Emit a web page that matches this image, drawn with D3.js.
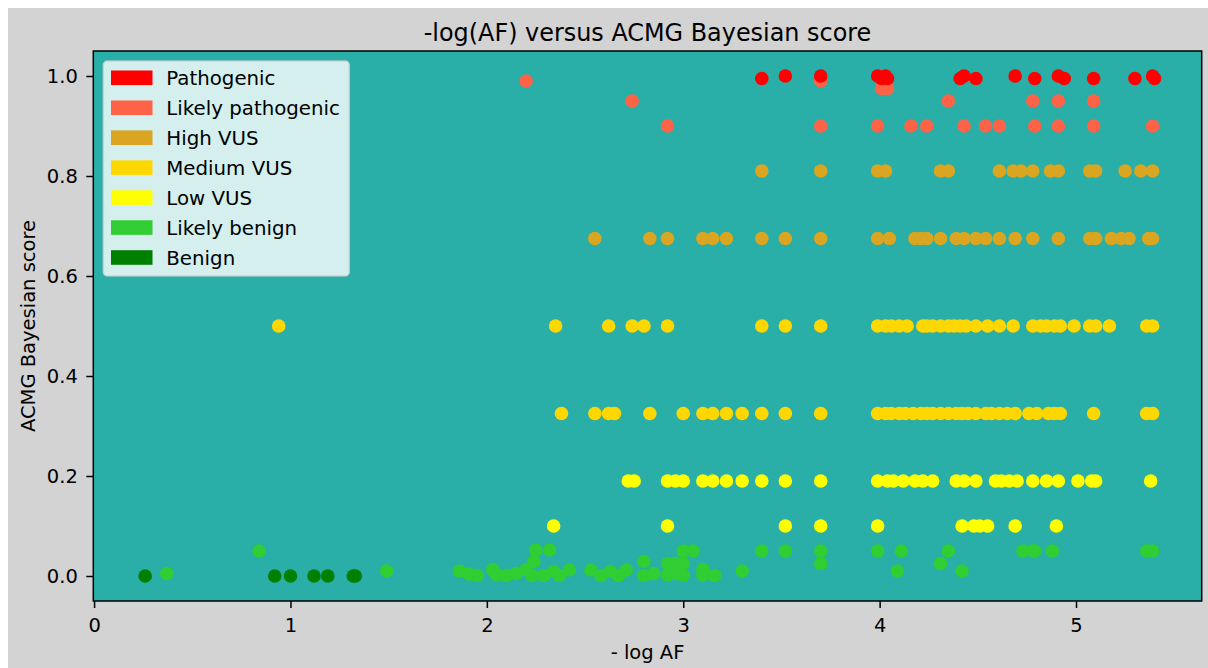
<!DOCTYPE html>
<html>
<head>
<meta charset="utf-8">
<script src="https://cdn.jsdelivr.net/npm/d3@7"></script>
<style>
  body { margin: 0; background: #ffffff; }
  svg { display: block; }
  text { font-family: "DejaVu Sans", sans-serif; fill: #000; }
</style>
</head>
<body>
<svg id="chart" width="1208" height="668"></svg>
<script>
// Classification categories, in legend order, with their colours
const categories = ["Pathogenic", "Likely pathogenic", "High VUS", "Medium VUS", "Low VUS", "Likely benign", "Benign"];
const categoryColors = ["red", "tomato", "goldenrod", "gold", "yellow", "limegreen", "green"];

// Tick values
const xTicks = [0, 1, 2, 3, 4, 5];
const yTicks = [0.0, 0.2, 0.4, 0.6, 0.8, 1.0];

// Variants per class: [-log AF, ACMG Bayesian score]
const pathogenic = [
  [3.40, 0.995], [3.52, 1.0], [3.70, 1.0], [3.99, 1.0], [4.01, 0.995], [4.03, 1.0], [4.04, 0.995],
  [4.41, 0.995], [4.43, 1.0], [4.49, 0.995], [4.69, 1.0], [4.79, 0.995], [4.91, 1.0], [4.94, 0.995],
  [5.09, 0.995], [5.30, 0.995], [5.39, 1.0], [5.40, 0.995]
];
const likelyPathogenic = [
  [2.20, 0.99], [3.70, 0.99], [4.01, 0.975], [4.04, 0.975],
  [2.74, 0.95], [4.35, 0.95], [4.78, 0.95], [4.91, 0.95], [5.09, 0.95],
  [2.92, 0.90], [3.70, 0.90], [3.99, 0.90], [4.16, 0.90], [4.24, 0.90], [4.43, 0.90], [4.54, 0.90],
  [4.61, 0.90], [4.79, 0.90], [4.91, 0.90], [5.09, 0.90], [5.39, 0.90]
];
const highVUS = [
  [3.40, 0.81], [3.70, 0.81], [3.99, 0.81], [4.03, 0.81], [4.31, 0.81], [4.35, 0.81], [4.61, 0.81],
  [4.68, 0.81], [4.72, 0.81], [4.78, 0.81], [4.87, 0.81], [4.91, 0.81], [5.07, 0.81], [5.10, 0.81],
  [5.25, 0.81], [5.33, 0.81], [5.39, 0.81],
  [2.55, 0.675], [2.83, 0.675], [2.92, 0.675], [3.10, 0.675], [3.15, 0.675], [3.22, 0.675], [3.40, 0.675],
  [3.52, 0.675], [3.70, 0.675], [3.99, 0.675], [4.05, 0.675], [4.18, 0.675], [4.21, 0.675], [4.24, 0.675],
  [4.31, 0.675], [4.39, 0.675], [4.43, 0.675], [4.49, 0.675], [4.54, 0.675], [4.61, 0.675], [4.69, 0.675],
  [4.78, 0.675], [4.91, 0.675], [5.07, 0.675], [5.10, 0.675], [5.18, 0.675], [5.23, 0.675], [5.27, 0.675],
  [5.37, 0.675], [5.39, 0.675]
];
const mediumVUS = [
  [0.94, 0.5], [2.35, 0.5], [2.62, 0.5], [2.74, 0.5], [2.80, 0.5], [2.92, 0.5], [3.40, 0.5], [3.52, 0.5],
  [3.70, 0.5], [3.99, 0.5], [4.03, 0.5], [4.06, 0.5], [4.10, 0.5], [4.14, 0.5], [4.22, 0.5], [4.24, 0.5],
  [4.27, 0.5], [4.31, 0.5], [4.35, 0.5], [4.38, 0.5], [4.41, 0.5], [4.44, 0.5], [4.49, 0.5], [4.55, 0.5],
  [4.61, 0.5], [4.68, 0.5], [4.78, 0.5], [4.82, 0.5], [4.85, 0.5], [4.89, 0.5], [4.92, 0.5], [4.99, 0.5],
  [5.07, 0.5], [5.10, 0.5], [5.17, 0.5], [5.36, 0.5], [5.39, 0.5],
  [2.38, 0.325], [2.55, 0.325], [2.62, 0.325], [2.65, 0.325], [2.83, 0.325], [3.00, 0.325], [3.10, 0.325],
  [3.15, 0.325], [3.22, 0.325], [3.30, 0.325], [3.40, 0.325], [3.52, 0.325], [3.70, 0.325], [3.99, 0.325],
  [4.03, 0.325], [4.06, 0.325], [4.10, 0.325], [4.13, 0.325], [4.17, 0.325], [4.21, 0.325], [4.24, 0.325],
  [4.27, 0.325], [4.31, 0.325], [4.35, 0.325], [4.39, 0.325], [4.42, 0.325], [4.45, 0.325], [4.49, 0.325],
  [4.54, 0.325], [4.57, 0.325], [4.61, 0.325], [4.65, 0.325], [4.69, 0.325], [4.76, 0.325], [4.80, 0.325],
  [4.86, 0.325], [4.89, 0.325], [4.92, 0.325], [5.09, 0.325], [5.36, 0.325], [5.39, 0.325]
];
const lowVUS = [
  [2.72, 0.19], [2.75, 0.19], [2.92, 0.19], [2.96, 0.19], [3.00, 0.19], [3.10, 0.19], [3.15, 0.19],
  [3.22, 0.19], [3.30, 0.19], [3.40, 0.19], [3.52, 0.19], [3.70, 0.19], [3.99, 0.19], [4.04, 0.19],
  [4.07, 0.19], [4.12, 0.19], [4.18, 0.19], [4.22, 0.19], [4.27, 0.19], [4.39, 0.19], [4.43, 0.19],
  [4.49, 0.19], [4.59, 0.19], [4.62, 0.19], [4.66, 0.19], [4.70, 0.19], [4.78, 0.19], [4.85, 0.19],
  [4.91, 0.19], [5.01, 0.19], [5.08, 0.19], [5.10, 0.19], [5.38, 0.19],
  [2.34, 0.1], [2.92, 0.1], [3.52, 0.1], [3.70, 0.1], [3.99, 0.1], [4.42, 0.1], [4.48, 0.1],
  [4.51, 0.1], [4.55, 0.1], [4.69, 0.1], [4.90, 0.1]
];
const likelyBenign = [
  [0.37, 0.005], [0.84, 0.05], [1.49, 0.01], [1.86, 0.01], [1.91, 0.004], [1.95, 0.001], [2.03, 0.013],
  [2.05, 0.002], [2.10, 0.001], [2.15, 0.005], [2.20, 0.013], [2.23, 0.001], [2.24, 0.029], [2.25, 0.052],
  [2.32, 0.052], [2.29, 0.001], [2.34, 0.009], [2.37, 0.001], [2.42, 0.012], [2.53, 0.012], [2.58, 0.001],
  [2.63, 0.009], [2.67, 0.001], [2.71, 0.012], [2.80, 0.029], [2.80, 0.001], [2.85, 0.005], [2.92, 0.025],
  [2.92, 0.002], [2.96, 0.025], [2.96, 0.005], [3.00, 0.025], [3.00, 0.001], [3.00, 0.05], [3.05, 0.05],
  [3.10, 0.013], [3.10, 0.002], [3.16, 0.001], [3.30, 0.01], [3.40, 0.05], [3.52, 0.05], [3.70, 0.05],
  [3.70, 0.025], [3.99, 0.05], [4.09, 0.01], [4.11, 0.05], [4.31, 0.025], [4.35, 0.05], [4.42, 0.01],
  [4.73, 0.05], [4.78, 0.05], [4.79, 0.05], [4.88, 0.05], [5.36, 0.05], [5.39, 0.05]
];
const benign = [
  [0.26, 0.0], [0.92, 0.0], [1.00, 0.0], [1.12, 0.0], [1.19, 0.0], [1.32, 0.0], [1.33, 0.0]
];

const seriesByCategory = [pathogenic, likelyPathogenic, highVUS, mediumVUS, lowVUS, likelyBenign, benign];

// Layout
const svg = d3.select("#chart");
const W = 1208, H = 668;
const plot = { left: 93.3, right: 1201.7, top: 51, bottom: 601 };
const tickFont = 19.5;
const legendFont = 19.8;

svg.append("rect").attr("x", 8).attr("y", 8).attr("width", W - 8).attr("height", H - 8).attr("fill", "lightgray");

const x = d3.scaleLinear().domain([-0.004, 5.64]).range([plot.left, plot.right]);
const y = d3.scaleLinear().domain([-0.05, 1.05]).range([plot.bottom, plot.top]);

// Axes background
svg.append("rect")
  .attr("x", plot.left).attr("y", plot.top)
  .attr("width", plot.right - plot.left).attr("height", plot.bottom - plot.top)
  .attr("fill", "#29aea8");

svg.append("clipPath").attr("id", "plot-clip")
  .append("rect")
  .attr("x", plot.left).attr("y", plot.top)
  .attr("width", plot.right - plot.left).attr("height", plot.bottom - plot.top);

// Scatter points, benign first so the pathogenic marks sit on top
const dots = svg.append("g").attr("clip-path", "url(#plot-clip)");
for (let i = seriesByCategory.length - 1; i >= 0; i--) {
  dots.append("g")
    .attr("fill", categoryColors[i])
    .selectAll("circle")
    .data(seriesByCategory[i])
    .join("circle")
    .attr("cx", d => x(d[0]))
    .attr("cy", d => y(d[1]))
    .attr("r", 6.8);
}

// Axes
const xAxis = svg.append("g")
  .attr("transform", `translate(0,${plot.bottom})`)
  .call(d3.axisBottom(x).tickValues(xTicks).tickFormat(d3.format("d")).tickSize(7).tickPadding(10));
const yAxis = svg.append("g")
  .attr("transform", `translate(${plot.left},0)`)
  .call(d3.axisLeft(y).tickValues(yTicks).tickFormat(d3.format(".1f")).tickSize(7).tickPadding(8.5));

[xAxis, yAxis].forEach(a => {
  a.select(".domain").remove();
  a.selectAll(".tick line").attr("stroke", "#000").attr("stroke-width", 1.5);
  a.selectAll(".tick text").attr("fill", "#000").style("font-size", tickFont + "px")
    .style("font-family", '"DejaVu Sans", sans-serif');
});

// Frame
svg.append("rect")
  .attr("x", plot.left).attr("y", plot.top)
  .attr("width", plot.right - plot.left).attr("height", plot.bottom - plot.top)
  .attr("fill", "none").attr("stroke", "#000").attr("stroke-width", 1.5);

// Titles
svg.append("text")
  .attr("x", (plot.left + plot.right) / 2).attr("y", 40.5)
  .attr("text-anchor", "middle").style("font-size", "23.9px")
  .text("-log(AF) versus ACMG Bayesian score");

svg.append("text")
  .attr("x", (plot.left + plot.right) / 2).attr("y", 659)
  .attr("text-anchor", "middle").style("font-size", tickFont + "px")
  .text("- log AF");

svg.append("text")
  .attr("transform", `translate(34.5,${(plot.top + plot.bottom) / 2}) rotate(-90)`)
  .attr("text-anchor", "middle").style("font-size", tickFont + "px")
  .text("ACMG Bayesian score");

// Legend
const legend = svg.append("g");
legend.append("rect")
  .attr("x", 103.3).attr("y", 61).attr("width", 246).attr("height", 215)
  .attr("rx", 4).attr("ry", 4)
  .attr("fill", "#ffffff").attr("fill-opacity", 0.8)
  .attr("stroke", "#cccccc").attr("stroke-opacity", 0.8).attr("stroke-width", 1.5);

const rows = legend.selectAll("g.row")
  .data(categories)
  .join("g")
  .attr("class", "row")
  .attr("transform", (d, i) => `translate(0,${77.8 + i * 29.95})`);

rows.append("rect")
  .attr("x", 111).attr("y", -7.3).attr("width", 41.5).attr("height", 14.6)
  .attr("fill", (d, i) => categoryColors[i]);

rows.append("text")
  .attr("x", 166.3).attr("y", 7.2)
  .style("font-size", legendFont + "px")
  .text(d => d);
</script>
</body>
</html>
